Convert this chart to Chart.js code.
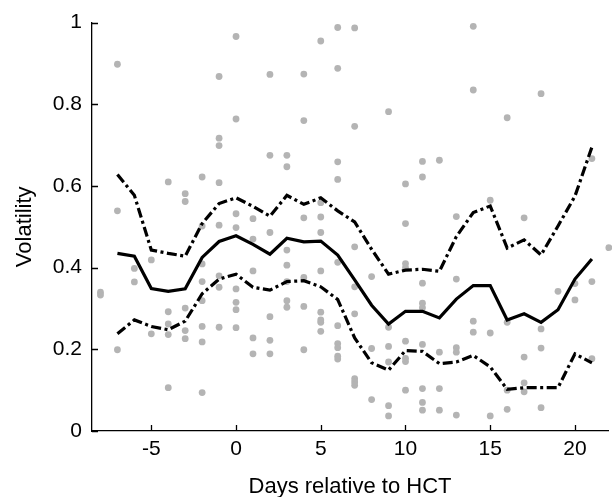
<!DOCTYPE html>
<html>
<head>
<meta charset="utf-8">
<script src="https://cdn.jsdelivr.net/npm/chart.js@4"></script>
<style>
  html, body { margin: 0; padding: 0; background: #fff; }
  #wrap { width: 612px; height: 497px; }
</style>
</head>
<body>
<div id="wrap"><canvas id="volChart" width="612" height="497"></canvas></div>
<script>
// daily curves: mean volatility and the upper / lower band
const lineDays = [-7, -6, -5, -4, -3, -2, -1, 0, 1, 2, 3, 4, 5, 6, 7, 8, 9, 10, 11, 12, 13, 14, 15, 16, 17, 18, 19, 20, 21];
const meanVals = [0.435, 0.428, 0.349, 0.342, 0.348, 0.425, 0.464, 0.478, 0.457, 0.433, 0.472, 0.463, 0.465, 0.431, 0.370,
                  0.308, 0.262, 0.293, 0.293, 0.277, 0.323, 0.356, 0.356, 0.272, 0.287, 0.266, 0.297, 0.372, 0.421];
const upperVals = [0.628, 0.577, 0.443, 0.435, 0.428, 0.508, 0.557, 0.571, 0.550, 0.526, 0.577, 0.555, 0.571, 0.539, 0.512,
                   0.445, 0.384, 0.394, 0.396, 0.391, 0.476, 0.535, 0.551, 0.448, 0.468, 0.431, 0.502, 0.575, 0.695];
const lowerVals = [0.238, 0.272, 0.256, 0.248, 0.269, 0.336, 0.372, 0.384, 0.352, 0.345, 0.366, 0.368, 0.353, 0.322, 0.228,
                   0.167, 0.149, 0.197, 0.195, 0.165, 0.169, 0.185, 0.157, 0.102, 0.106, 0.106, 0.106, 0.189, 0.167];

// individual measurements, one list per day
const dotDays = [-8, -7, -6, -5, -4, -3, -2, -1, 0, 1, 2, 3, 4, 5, 6, 7, 8, 9, 10, 11, 12, 13, 14, 15, 16, 17, 18, 19, 20, 21, 22];
const dotValues = [
  [0.340, 0.333],
  [0.898, 0.539, 0.199],
  [0.398, 0.365],
  [0.419, 0.238],
  [0.610, 0.292, 0.262, 0.236, 0.106],
  [0.581, 0.562, 0.301, 0.246, 0.226],
  [0.622, 0.502, 0.409, 0.366, 0.319, 0.256, 0.218, 0.094],
  [0.868, 0.717, 0.699, 0.608, 0.504, 0.380, 0.352, 0.254],
  [0.966, 0.764, 0.532, 0.498, 0.348, 0.315, 0.297, 0.253],
  [0.520, 0.470, 0.392, 0.228, 0.189],
  [0.873, 0.675, 0.486, 0.280, 0.222, 0.189],
  [0.675, 0.647, 0.443, 0.406, 0.366, 0.319, 0.303],
  [0.874, 0.760, 0.522, 0.376, 0.305, 0.199],
  [0.955, 0.559, 0.524, 0.486, 0.392, 0.291, 0.272, 0.266, 0.244],
  [0.988, 0.888, 0.659, 0.616, 0.413, 0.258, 0.214, 0.204, 0.183, 0.176],
  [0.987, 0.746, 0.451, 0.353, 0.287, 0.128, 0.120, 0.112],
  [0.378, 0.202, 0.077],
  [0.782, 0.254, 0.207, 0.169, 0.062, 0.037],
  [0.605, 0.508, 0.410, 0.400, 0.220, 0.178, 0.170, 0.100],
  [0.660, 0.622, 0.362, 0.313, 0.302, 0.212, 0.104, 0.070, 0.051],
  [0.663, 0.193, 0.104, 0.051],
  [0.525, 0.372, 0.204, 0.193, 0.039],
  [0.991, 0.835, 0.269, 0.242],
  [0.565, 0.240, 0.037],
  [0.767, 0.266, 0.100, 0.053],
  [0.522, 0.181, 0.118, 0.096],
  [0.826, 0.250, 0.203, 0.057],
  [0.342],
  [0.361, 0.321],
  [0.667, 0.366, 0.177],
  [0.449, 0.085]
];

const xTicks = [-5, 0, 5, 10, 15, 20];
const xTickLabels = ['-5', '0', '5', '10', '15', '20'];
const yTicks = [0, 0.2, 0.4, 0.6, 0.8, 1];
const yTickLabels = ['0', '0.2', '0.4', '0.6', '0.8', '1'];

const toXY = (vals) => vals.map((v, i) => ({ x: lineDays[i], y: v }));
const dots = dotDays.flatMap((d, i) => dotValues[i].map(v => ({ x: d, y: v })));

Chart.defaults.font.family = '"Liberation Sans", Arial, sans-serif';
Chart.defaults.color = '#000';

// MATLAB-style tick marks pointing into the plot
const inwardTicks = {
  id: 'inwardTicks',
  afterDraw(chart) {
    const { ctx, chartArea, scales } = chart;
    ctx.save();
    ctx.strokeStyle = '#000';
    ctx.lineWidth = 1.3;
    ctx.beginPath();
    scales.x.ticks.forEach(t => {
      const px = Math.round(scales.x.getPixelForValue(t.value)) + 0.5;
      ctx.moveTo(px, chartArea.bottom);
      ctx.lineTo(px, chartArea.bottom - 6);
    });
    scales.y.ticks.forEach(t => {
      const py = Math.round(scales.y.getPixelForValue(t.value)) + 0.5;
      ctx.moveTo(chartArea.left, py);
      ctx.lineTo(chartArea.left + 6, py);
    });
    ctx.stroke();
    ctx.restore();
  }
};

const bandLine = (vals) => ({
  data: toXY(vals),
  showLine: true,
  borderColor: '#000',
  borderWidth: 3.2,
  borderDash: [10, 3.5, 3, 3.5],
  pointRadius: 0,
  order: 1
});

new Chart(document.getElementById('volChart'), {
  type: 'scatter',
  data: {
    datasets: [
      {
        data: toXY(meanVals),
        showLine: true,
        borderColor: '#000',
        borderWidth: 3.2,
        pointRadius: 0,
        order: 0
      },
      bandLine(upperVals),
      bandLine(lowerVals),
      {
        data: dots,
        pointRadius: 3.4,
        pointBackgroundColor: '#b4b4b4',
        pointBorderWidth: 0,
        clip: false,
        order: 5
      }
    ]
  },
  options: {
    responsive: false,
    animation: false,
    devicePixelRatio: 1,
    layout: { padding: { top: 21, right: 0, left: 0, bottom: 0 } },
    plugins: { legend: { display: false }, tooltip: { enabled: false } },
    scales: {
      x: {
        type: 'linear',
        min: -8.5,
        max: 21.95,
        grid: { display: false, drawTicks: false },
        border: { display: true, color: '#000', width: 1.3 },
        afterBuildTicks: (s) => { s.ticks = xTicks.map(v => ({ value: v })); },
        afterFit: (s) => { s.height = 66; },
        ticks: {
          font: { size: 21 },
          color: '#000',
          padding: 6,
          maxRotation: 0,
          callback: (v, i) => xTickLabels[i]
        },
        title: {
          display: true,
          text: 'Days relative to HCT',
          font: { size: 22 },
          color: '#000',
          padding: { top: 0, bottom: -3 }
        }
      },
      y: {
        type: 'linear',
        min: 0,
        max: 1,
        grid: { display: false, drawTicks: false },
        border: { display: true, color: '#000', width: 1.3 },
        afterBuildTicks: (s) => { s.ticks = yTicks.map(v => ({ value: v })); },
        afterFit: (s) => { s.width = 92; },
        ticks: {
          font: { size: 21 },
          color: '#000',
          padding: 10,
          callback: (v, i) => yTickLabels[i]
        },
        title: {
          display: true,
          text: 'Volatility',
          font: { size: 22 },
          color: '#000',
          padding: { top: 12, bottom: 0 }
        }
      }
    }
  },
  plugins: [inwardTicks]
});
</script>
</body>
</html>
